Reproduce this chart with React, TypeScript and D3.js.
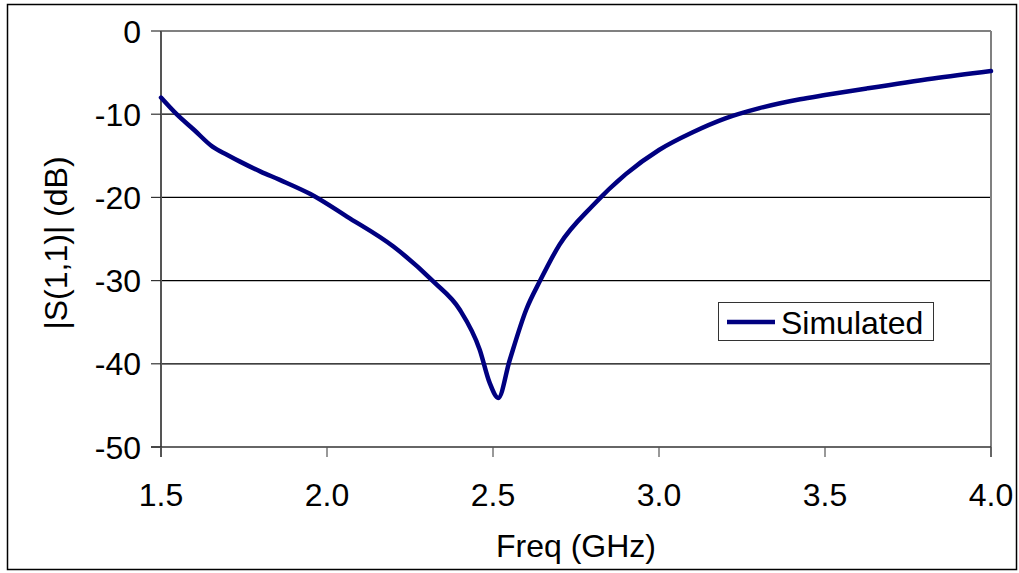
import React from "react";
import * as d3 from "d3";

// Simulated return loss of the antenna, |S(1,1)| in dB against frequency in GHz
const freqGHz = [
  1.5, 1.547, 1.6, 1.655, 1.7, 1.738, 1.8, 1.858, 1.95, 2.06, 2.2, 2.32, 2.4,
  2.46, 2.49, 2.516, 2.55, 2.6, 2.642, 2.7, 2.8, 2.9, 3.0, 3.1, 3.2, 3.3,
  3.425, 3.5, 3.626, 3.826, 4.0,
];
const s11dB = [
  -8.0, -10.0, -11.9, -13.9, -14.9, -15.7, -16.9, -17.9, -19.6, -22.3, -25.9,
  -30.1, -33.5, -38.3, -42.3, -44.1, -39.6, -33.5, -30.0, -25.7, -21.0,
  -17.2, -14.3, -12.2, -10.5, -9.3, -8.2, -7.7, -6.9, -5.7, -4.8,
];
const xTicks = [1.5, 2.0, 2.5, 3.0, 3.5, 4.0];
const yTicks = [0, -10, -20, -30, -40, -50];
const seriesName = "Simulated";

const W = 1019;
const H = 573;
const plot = { left: 161, right: 991, top: 31, bottom: 447 };
const font = "'Liberation Sans', Arial, sans-serif";
const navy = "#000080";
const fs = 32;

export default function App() {
  const x = d3.scaleLinear().domain([1.5, 4.0]).range([plot.left, plot.right]);
  const y = d3.scaleLinear().domain([-50, 0]).range([plot.bottom, plot.top]);

  const line = d3
    .line<number>()
    .x((_, i) => x(freqGHz[i]))
    .y((d) => y(d))
    .curve(d3.curveMonotoneX);

  const path = line(s11dB) ?? "";

  return (
    <svg
      width={W}
      height={H}
      style={{ position: "absolute", left: 0, top: 0, background: "#fff" }}
      fontFamily={font}
    >
      <rect x={0} y={0} width={W} height={H} fill="#fff" />
      {/* outer chart frame */}
      <rect x={7.5} y={4.5} width={1009} height={565} fill="none" stroke="#000" strokeWidth={1.5} />

      {/* horizontal gridlines */}
      {yTicks
        .filter((t) => t !== 0 && t !== -50)
        .map((t) => (
          <line key={t} x1={plot.left} x2={plot.right} y1={y(t)} y2={y(t)} stroke="#000" strokeWidth={1.2} />
        ))}

      {/* plot frame: top and right in grey */}
      <line x1={plot.left} x2={plot.right} y1={plot.top} y2={plot.top} stroke="#808080" strokeWidth={2} />
      <line x1={plot.right} x2={plot.right} y1={plot.top} y2={plot.bottom + 10} stroke="#808080" strokeWidth={2} />

      {/* axes */}
      <line x1={plot.left} x2={plot.left} y1={plot.top} y2={plot.bottom + 10} stroke="#555" strokeWidth={2} />
      <line x1={plot.left - 10} x2={plot.right} y1={plot.bottom} y2={plot.bottom} stroke="#333" strokeWidth={1.5} />

      {/* y ticks and labels */}
      {yTicks.map((t) => (
        <g key={t}>
          <line x1={plot.left - 10} x2={plot.left} y1={y(t)} y2={y(t)} stroke="#333" strokeWidth={1.2} />
          <text x={141} y={y(t)} dy="0.36em" textAnchor="end" fontSize={fs} fill="#000">
            {t}
          </text>
        </g>
      ))}

      {/* x ticks and labels */}
      {xTicks.map((t) => (
        <g key={t}>
          <line x1={x(t)} x2={x(t)} y1={plot.bottom} y2={plot.bottom + 10} stroke="#555" strokeWidth={1.2} />
          <text x={x(t)} y={506} textAnchor="middle" fontSize={fs} fill="#000">
            {t.toFixed(1)}
          </text>
        </g>
      ))}

      {/* axis titles */}
      <text x={576} y={557} textAnchor="middle" fontSize={fs} fill="#000">
        Freq (GHz)
      </text>
      <text
        transform={`translate(67, ${(plot.top + plot.bottom) / 2 + 4}) rotate(-90)`}
        textAnchor="middle"
        fontSize={fs}
        fill="#000"
      >
        |S(1,1)| (dB)
      </text>

      {/* data curve */}
      <path d={path} fill="none" stroke={navy} strokeWidth={4.5} strokeLinejoin="round" strokeLinecap="round" />

      {/* legend */}
      <rect x={718.5} y={302.5} width={215} height={38} fill="#fff" stroke="#333" strokeWidth={1} />
      <line x1={727} x2={775} y1={322} y2={322} stroke={navy} strokeWidth={4.5} />
      <text x={781} y={322} dy="0.36em" fontSize={fs} fill="#000">
        {seriesName}
      </text>
    </svg>
  );
}
